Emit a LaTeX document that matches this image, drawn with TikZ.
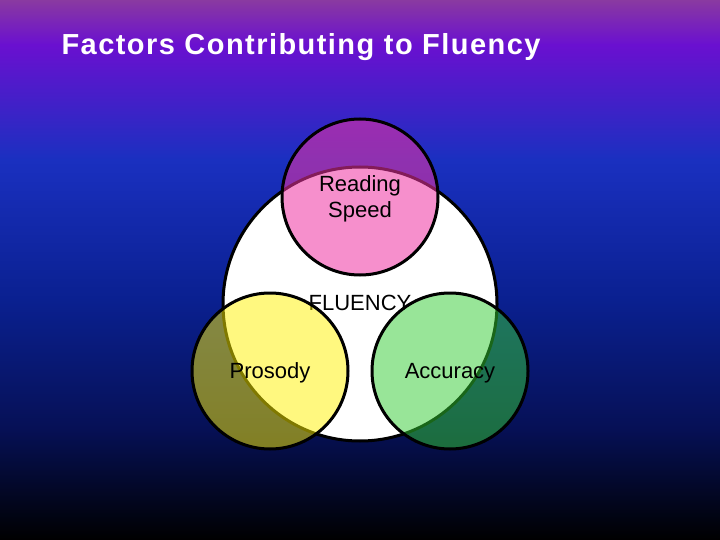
\documentclass[tikz,border=0pt]{standalone}
\usepackage{fontspec}
\setmainfont{Liberation Sans}
\definecolor{c0}{HTML}{000000}
\definecolor{c1}{HTML}{061055}
\definecolor{c2}{HTML}{0A2090}
\definecolor{c3}{HTML}{1A30C0}
\definecolor{c4}{HTML}{6A10D0}
\definecolor{c5}{HTML}{8A3AA0}
\begin{document}
\begin{tikzpicture}[x=1pt,y=-1pt,
  ring/.style={draw=black,line width=3pt},
  lbl/.style={font=\fontsize{22}{26}\selectfont,align=center,text=black}]
\useasboundingbox (0,0) rectangle (720,540);
\shade[top color=c5,bottom color=c4] (0,-0.5) rectangle (720,45);
\shade[top color=c4,bottom color=c3] (0,44.5) rectangle (720,160);
\shade[top color=c3,bottom color=c2] (0,159.5) rectangle (720,300);
\shade[top color=c2,bottom color=c1] (0,299.5) rectangle (720,430);
\shade[top color=c1,bottom color=c0] (0,429.5) rectangle (720,540.5);
\node[anchor=west,text=white,font=\fontsize{29}{32}\bfseries\addfontfeature{LetterSpace=5}] (title) at (58,47) {Factors Contributing to Fluency};
\draw[ring,fill=white] (360,304) circle (137);
\node[lbl] (fl) at (360,303) {FLUENCY};
\fill[fill=magenta!80!white,fill opacity=0.55] (360,197) circle (78);
\fill[fill=yellow,fill opacity=0.5] (270,371) circle (78);
\fill[fill=green!75!black!80!white,fill opacity=0.5] (450,371) circle (78);
\draw[ring] (360,197) circle (78) (270,371) circle (78) (450,371) circle (78);
\node[lbl] (rs) at (360,199) {Reading\\Speed};
\node[lbl] (pr) at (270,373) {Prosody};
\node[lbl] (ac) at (450,373) {Accuracy};
\end{tikzpicture}
\end{document}
